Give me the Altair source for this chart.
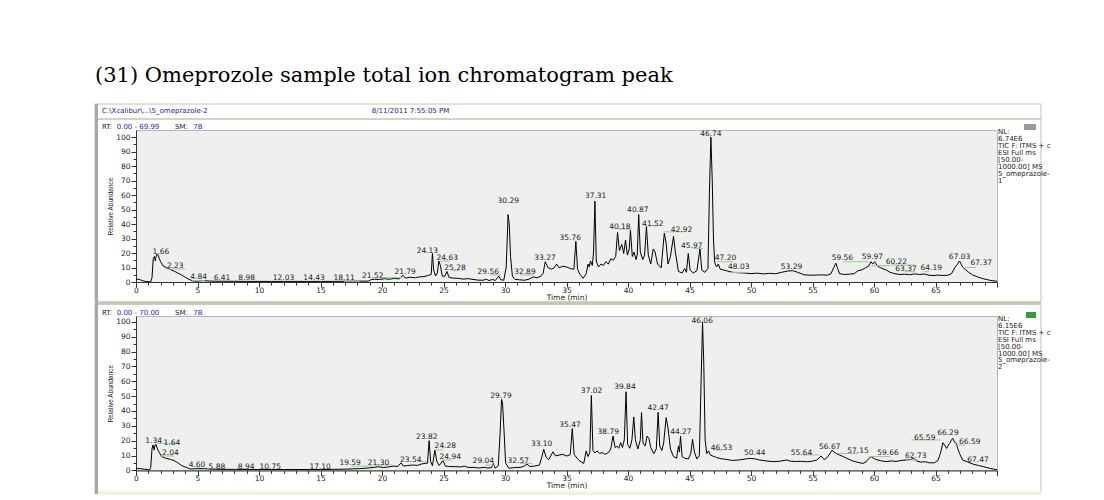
import altair as alt
import pandas as pd

TITLE = "(31) Omeprozole sample total ion chromatogram peak"
HEADER_PATH = "C:\\Xcalibur\\...\\5_omeprazole-2"
HEADER_DATE = "8/11/2011 7:55:05 PM"

# ---- top chromatogram (time min, relative abundance %) ----
top_trace = [
    (0.0, 1.5), (0.2, 2.0), (0.5, 1.0), (0.8, 0.3), (1.2, 0.2), (1.3, 3.0), (1.4, 16.1),
    (1.5, 17.6), (1.57, 14.5), (1.62, 17.1), (1.7, 19.2), (1.8, 18.6), (1.9, 16.1),
    (2.0, 14.0), (2.2, 11.2), (2.5, 9.8), (2.8, 8.6), (3.1, 7.5), (3.4, 6.2), (3.7, 4.8),
    (4.0, 3.3), (4.3, 1.9), (4.6, 0.8), (5.0, 0.5), (5.5, 1.0), (6.0, 0.6), (7.0, 0.5),
    (8.0, 0.5), (9.0, 0.4), (10.0, 0.4), (11.0, 0.4), (12.0, 0.4), (13.0, 0.4), (14.0, 0.4),
    (15.0, 0.4), (16.0, 0.4), (17.0, 0.5), (18.0, 0.6), (18.9, 0.6), (19.1, 1.6), (19.4, 1.9),
    (19.8, 1.7), (20.2, 2.3), (20.6, 1.9), (21.0, 2.5), (21.4, 2.1), (21.7, 4.7), (21.9, 2.7),
    (22.3, 3.3), (22.7, 2.9), (23.0, 3.5), (23.4, 3.7), (23.7, 4.4), (24.0, 5.2), (24.1, 19.7),
    (24.2, 8.3), (24.35, 4.1), (24.5, 6.2), (24.62, 14.5), (24.75, 11.4), (24.9, 4.1),
    (25.1, 3.9), (25.28, 7.3), (25.45, 3.1), (25.8, 2.7), (26.2, 2.5), (26.6, 2.0), (27.0, 2.3),
    (27.4, 1.8), (27.8, 1.3), (28.2, 1.2), (28.5, 1.9), (28.7, 1.0), (29.0, 1.8), (29.2, 1.0),
    (29.5, 4.1), (29.65, 1.6), (29.9, 1.2), (30.1, 10.4), (30.25, 46.6), (30.35, 39.4),
    (30.45, 17.6), (30.6, 4.1), (30.8, 1.9), (31.2, 1.5), (31.6, 1.2), (32.0, 2.1), (32.3, 3.5),
    (32.6, 2.9), (32.9, 3.9), (33.1, 6.0), (33.27, 14.0), (33.5, 9.8), (33.8, 8.9), (34.0, 9.8),
    (34.2, 12.4), (34.4, 9.8), (34.7, 10.9), (35.0, 10.4), (35.3, 9.3), (35.6, 8.8),
    (35.76, 28.0), (35.9, 8.8), (36.1, 5.2), (36.35, 2.6), (36.6, 5.7), (36.75, 12.4),
    (36.85, 10.4), (36.95, 14.5), (37.1, 11.4), (37.2, 20.7), (37.31, 55.9), (37.42, 14.5),
    (37.6, 10.4), (37.8, 12.4), (38.0, 11.4), (38.2, 14.0), (38.4, 12.4), (38.6, 16.1),
    (38.8, 15.0), (39.0, 17.6), (39.15, 34.2), (39.3, 21.8), (39.5, 25.9), (39.65, 19.7),
    (39.8, 29.0), (39.95, 18.6), (40.1, 22.8), (40.2, 35.7), (40.35, 17.6), (40.5, 20.7),
    (40.65, 15.5), (40.75, 18.6), (40.87, 46.6), (41.0, 20.7), (41.2, 15.5), (41.35, 18.6),
    (41.5, 38.3), (41.65, 18.6), (41.85, 12.4), (42.05, 22.8), (42.2, 20.7), (42.4, 12.4),
    (42.7, 9.8), (42.95, 33.7), (43.1, 26.9), (43.25, 12.4), (43.45, 17.6), (43.7, 31.6),
    (43.85, 20.7), (44.1, 7.3), (44.4, 6.2), (44.6, 9.3), (44.75, 6.7), (44.9, 19.7),
    (45.05, 8.3), (45.3, 6.2), (45.6, 7.8), (45.85, 22.8), (46.0, 8.3), (46.25, 6.7),
    (46.5, 9.3), (46.62, 62.0), (46.74, 100.0), (46.85, 70.0), (46.95, 29.0), (47.05, 13.5),
    (47.2, 10.4), (47.35, 12.4), (47.5, 8.8), (48.0, 7.8), (48.5, 6.7), (49.0, 6.4),
    (49.5, 6.2), (50.0, 5.8), (50.5, 6.1), (51.0, 5.6), (51.5, 6.0), (52.0, 5.7), (52.5, 6.7),
    (53.0, 7.6), (53.4, 7.8), (53.8, 6.7), (54.3, 5.0), (54.8, 4.7), (55.3, 4.8), (55.8, 4.9),
    (56.2, 4.7), (56.5, 5.7), (56.75, 10.4), (56.9, 13.0), (57.05, 9.3), (57.2, 5.7),
    (57.6, 5.2), (58.0, 5.4), (58.4, 5.8), (58.7, 7.8), (59.0, 8.3), (59.3, 9.8), (59.55, 10.9),
    (59.75, 14.0), (59.9, 12.4), (60.05, 14.0), (60.3, 10.9), (60.55, 9.8), (60.8, 8.8),
    (61.0, 8.3), (61.3, 6.7), (61.7, 5.7), (62.1, 5.2), (62.5, 5.4), (62.9, 5.0), (63.3, 5.6),
    (63.7, 5.2), (64.1, 5.5), (64.4, 4.8), (64.8, 4.4), (65.2, 4.8), (65.6, 4.5), (66.0, 4.7),
    (66.3, 5.7), (66.6, 10.4), (66.8, 12.4), (66.95, 14.5), (67.05, 13.0), (67.2, 10.4),
    (67.4, 8.8), (67.7, 6.7), (68.0, 5.0), (68.4, 3.6), (68.8, 2.4), (69.2, 1.6), (69.6, 0.9),
    (70.0, 0.5),
]

# ---- bottom chromatogram ----
bottom_trace = [
    (0.0, 1.3), (0.3, 1.2), (0.7, 0.8), (1.1, 0.3), (1.2, 2.1), (1.3, 14.4), (1.38, 17.1),
    (1.48, 13.7), (1.55, 17.1), (1.62, 17.5), (1.75, 14.4), (1.9, 11.8), (2.1, 9.3),
    (2.4, 8.2), (2.8, 7.4), (3.1, 6.6), (3.4, 5.1), (3.7, 3.3), (4.0, 2.3), (4.4, 1.0),
    (4.7, 1.0), (5.0, 1.4), (5.5, 1.2), (6.0, 0.9), (7.0, 0.7), (8.0, 0.7), (9.0, 0.6),
    (10.0, 0.6), (11.0, 0.6), (12.0, 0.6), (13.0, 0.6), (14.0, 0.6), (15.0, 0.6), (16.0, 0.7),
    (17.0, 0.8), (17.6, 1.0), (18.2, 1.2), (18.6, 1.4), (19.0, 1.7), (19.4, 2.1), (19.7, 2.5),
    (20.1, 1.9), (20.5, 2.3), (20.9, 2.9), (21.3, 2.7), (21.55, 5.1), (21.75, 2.9), (22.1, 3.3),
    (22.5, 3.6), (22.9, 3.4), (23.2, 4.3), (23.5, 4.7), (23.7, 4.9), (23.83, 20.0),
    (23.95, 6.2), (24.1, 3.1), (24.3, 13.7), (24.45, 6.2), (24.65, 3.3), (24.96, 6.6),
    (25.15, 2.9), (25.5, 2.6), (26.0, 2.5), (26.4, 2.3), (26.7, 2.9), (27.0, 2.0), (27.5, 2.0),
    (27.9, 1.6), (28.3, 2.1), (28.6, 1.6), (28.9, 1.9), (29.05, 4.7), (29.2, 1.5), (29.45, 3.1),
    (29.6, 24.7), (29.72, 47.8), (29.8, 45.2), (29.92, 26.7), (30.05, 5.1), (30.3, 1.5),
    (30.8, 1.9), (31.3, 2.1), (31.6, 3.1), (31.8, 4.3), (32.0, 2.6), (32.4, 2.9), (32.8, 3.6),
    (33.0, 9.3), (33.15, 14.2), (33.35, 8.7), (33.55, 7.2), (33.9, 12.5), (34.1, 9.8),
    (34.4, 10.3), (34.7, 10.8), (35.0, 9.7), (35.3, 10.5), (35.47, 28.1), (35.62, 10.8),
    (35.9, 7.7), (36.1, 6.2), (36.4, 4.7), (36.6, 13.1), (36.75, 9.3), (36.9, 12.3),
    (37.02, 50.4), (37.15, 13.4), (37.3, 11.8), (37.5, 13.1), (37.7, 11.3), (37.9, 12.1),
    (38.1, 10.8), (38.4, 11.9), (38.6, 14.4), (38.78, 23.1), (38.95, 15.4), (39.1, 16.3),
    (39.25, 14.9), (39.4, 18.7), (39.55, 15.4), (39.7, 20.6), (39.84, 52.9), (39.97, 17.5),
    (40.15, 14.9), (40.32, 20.6), (40.47, 36.0), (40.6, 20.6), (40.8, 14.4), (41.0, 20.6),
    (41.1, 38.9), (41.22, 18.5), (41.4, 16.4), (41.55, 23.1), (41.7, 21.6), (41.85, 15.4),
    (42.1, 11.3), (42.3, 14.4), (42.45, 39.1), (42.58, 16.4), (42.75, 13.4), (42.9, 18.5),
    (43.1, 35.5), (43.25, 28.8), (43.45, 14.4), (43.7, 9.3), (43.95, 8.2), (44.1, 16.3),
    (44.18, 12.3), (44.27, 23.1), (44.4, 9.3), (44.6, 8.2), (44.9, 7.7), (45.1, 11.3),
    (45.25, 20.9), (45.4, 12.3), (45.6, 7.7), (45.8, 9.8), (45.95, 62.0), (46.06, 100.0),
    (46.16, 72.0), (46.27, 20.6), (46.4, 11.3), (46.55, 13.1), (46.7, 10.3), (47.0, 9.3),
    (47.2, 8.7), (47.6, 7.8), (48.0, 7.4), (48.5, 6.7), (49.0, 7.0), (49.5, 7.6), (49.9, 8.1),
    (50.3, 7.8), (50.7, 7.0), (51.2, 6.4), (51.8, 5.9), (52.3, 6.1), (52.9, 7.0), (53.2, 6.2),
    (53.6, 6.0), (54.1, 6.1), (54.6, 5.8), (55.0, 6.2), (55.35, 7.0), (55.7, 9.7), (55.95, 7.2),
    (56.2, 8.7), (56.45, 11.8), (56.6, 13.7), (56.75, 12.3), (56.95, 11.3), (57.2, 10.3),
    (57.5, 9.3), (57.9, 7.7), (58.3, 6.3), (58.7, 5.4), (59.1, 4.7), (59.35, 5.7), (59.55, 7.7),
    (59.75, 9.3), (59.95, 8.2), (60.2, 7.2), (60.6, 6.4), (61.0, 5.9), (61.4, 6.4), (61.8, 6.0),
    (62.2, 6.7), (62.6, 7.0), (63.0, 7.4), (63.2, 8.1), (63.5, 6.2), (63.8, 5.6), (64.2, 5.8),
    (64.5, 5.1), (64.9, 5.1), (65.2, 6.7), (65.4, 11.4), (65.6, 18.6), (65.75, 17.0),
    (65.9, 14.8), (66.05, 17.0), (66.15, 18.2), (66.3, 20.6), (66.4, 21.6), (66.55, 19.0),
    (66.7, 18.2), (66.8, 14.9), (66.95, 11.4), (67.2, 7.0), (67.6, 5.7), (68.1, 4.1),
    (68.5, 3.3), (68.9, 2.5), (69.4, 1.4), (69.9, 0.6), (70.0, 0.5),
]

# ---- peak labels: (text, time where drawn, abundance where drawn) ----
top_labels = [
    ("1.66", 2.02, 20.4), ("2.23", 3.19, 11.3), ("4.84", 5.09, 3.2), ("6.41", 6.99, 2.5),
    ("8.98", 9.0, 2.5), ("12.03", 11.99, 2.5), ("14.43", 14.48, 2.5), ("18.11", 16.92, 3.0),
    ("21.52", 19.25, 4.4), ("21.79", 21.88, 6.6), ("24.13", 23.69, 21.4), ("24.63", 25.31, 16.3),
    ("25.28", 25.94, 9.8), ("29.56", 28.64, 6.6), ("30.29", 30.27, 55.9), ("32.89", 31.62, 6.6),
    ("33.27", 33.25, 16.8), ("35.76", 35.3, 30.1), ("37.31", 37.37, 59.2), ("40.18", 39.34, 38.2),
    ("40.87", 40.8, 49.7), ("41.52", 42.02, 40.4), ("42.92", 44.35, 35.9), ("45.97", 45.19, 25.2),
    ("46.74", 46.74, 102.3), ("47.20", 47.93, 16.3), ("48.03", 49.01, 10.6), ("53.29", 53.29, 10.6),
    ("59.56", 57.43, 16.3), ("59.97", 59.87, 17.0), ("60.22", 61.82, 13.8), ("63.37", 62.6, 9.0),
    ("64.19", 64.66, 9.4), ("67.03", 66.96, 17.5), ("67.37", 68.72, 12.8),
]
bottom_labels = [
    ("1.34", 1.43, 20.0), ("1.64", 2.92, 18.6), ("2.04", 2.79, 11.4), ("4.60", 4.96, 3.6),
    ("5.88", 6.58, 2.5), ("8.94", 8.96, 2.5), ("10.75", 10.91, 2.5), ("17.10", 14.97, 2.5),
    ("19.59", 17.41, 5.1), ("21.30", 19.71, 5.1), ("23.54", 22.34, 7.0), ("23.82", 23.64, 22.2),
    ("24.28", 25.15, 16.7), ("24.94", 25.55, 9.3), ("29.04", 28.24, 6.6), ("29.79", 29.67, 50.1),
    ("32.57", 31.08, 6.3), ("33.10", 32.98, 17.5), ("35.47", 35.28, 30.5), ("37.02", 37.04, 53.5),
    ("38.79", 38.39, 26.0), ("39.84", 39.75, 55.9), ("42.47", 42.45, 42.1), ("44.27", 44.3, 26.0),
    ("46.06", 46.03, 100.7), ("46.53", 47.6, 14.8), ("50.44", 50.31, 11.4), ("55.64", 54.1, 11.9),
    ("56.67", 56.4, 15.9), ("57.15", 58.7, 13.1), ("59.66", 61.14, 11.4), ("62.73", 63.39, 9.7),
    ("65.59", 64.12, 22.0), ("66.29", 66.01, 24.9), ("66.59", 67.78, 18.8), ("67.47", 68.45, 7.0),
]

# ---- green annotation bars: (time from, time to, abundance) ----
top_greens = [
    (2.38, 4.0, 9.0), (4.54, 5.63, 0.9), (16.9, 18.2, 0.5), (20.1, 21.6, 3.0), (24.7, 25.5, 14.5),
    (25.7, 26.3, 7.8), (28.8, 29.7, 4.9), (31.2, 32.3, 4.9), (39.2, 40.3, 36.6), (41.6, 42.5, 38.9),
    (42.9, 44.6, 34.7), (45.3, 46.1, 23.2), (47.2, 48.6, 14.0), (48.2, 49.6, 6.6), (57.5, 59.5, 14.0),
    (59.8, 61.3, 11.3), (61.4, 63.3, 11.7), (62.5, 63.3, 7.1), (64.0, 64.5, 7.1), (67.4, 68.3, 10.0),
]
bottom_greens = [
    (1.7, 3.3, 18.2), (2.1, 3.1, 9.7), (4.7, 5.6, 0.7), (5.8, 7.0, 1.3), (17.5, 19.3, 2.9),
    (19.4, 20.8, 3.6), (22.9, 23.6, 5.9), (24.3, 24.98, 13.7), (24.98, 25.7, 7.0), (28.4, 29.2, 3.6),
    (31.2, 32.2, 4.7), (46.9, 47.7, 13.7), (54.2, 55.6, 10.4), (57.1, 58.7, 11.4), (59.6, 61.3, 9.3),
    (62.6, 63.6, 7.0), (63.0, 65.4, 20.5), (66.6, 67.4, 17.1),
]

top_rt = "0.00 - 69.99"
bottom_rt = "0.00 - 70.00"
top_nl = ["NL:", "6.74E6", "TIC F: ITMS + c", "ESI Full ms", "[50.00-", "1000.00]  MS", "5_omeprazole-", "1"]
bottom_nl = ["NL:", "6.15E6", "TIC F: ITMS + c", "ESI Full ms", "[50.00-", "1000.00]  MS", "5_omeprazole-", "2"]

X_TICKS = list(range(0, 71))
Y_TICKS = list(range(0, 101, 5))

W = 861
SMALL = "DejaVu Sans"
FRAME = "#c4c4b4"
ONE = pd.DataFrame({"k": [0]})


def dtext(text, x, y, color="#222222", size=7, font=SMALL, align="left", baseline="middle", **kw):
    return alt.Chart(ONE).mark_text(text=text, align=align, baseline=baseline, font=font,
                                    fontSize=size, color=color, **kw).encode(
        x=alt.value(x), y=alt.value(y))


def drect(x, x2, y, y2, fill=None, stroke=None, sw=1):
    if fill is not None:
        m = alt.Chart(ONE).mark_rect(color=fill)
    else:
        m = alt.Chart(ONE).mark_rect(fill="white", fillOpacity=0, stroke=stroke, strokeWidth=sw)
    return m.encode(x=alt.value(x), x2=alt.value(x2), y=alt.value(y), y2=alt.value(y2))


def panel(trace, labels, greens, height, ytop, rt, nl, nl_y, nl_lh, decos):
    tdf = pd.DataFrame(trace, columns=["t", "v"])
    ldf = pd.DataFrame(labels, columns=["label", "x", "y"])
    gdf = pd.DataFrame(greens, columns=["x1", "x2", "y"])
    xs = alt.Scale(domain=[0, 70], nice=False, zero=False)
    ys = alt.Scale(domain=[0, ytop], nice=False)
    x_axis = alt.Axis(
        values=X_TICKS, format="d", title="Time (min)", grid=False,
        labelExpr="datum.value % 5 === 0 && datum.value < 70 ? datum.label : ''",
        tickSize={"condition": {"test": "datum.value % 5 === 0", "value": 5}, "value": 3},
        labelPadding=-1, titlePadding=0, labelOverlap=False, labelFlush=False,
        titleFontSize=7.5, titleFont=SMALL,
    )
    y_axis = alt.Axis(
        values=Y_TICKS, format="d", title="Relative Abundance", grid=False,
        labelExpr="datum.value % 10 === 0 ? datum.label : ''",
        tickSize={"condition": {"test": "datum.value % 10 === 0", "value": 5}, "value": 3},
        labelPadding=1, titlePadding=2, labelOverlap=False, labelFlush=False,
        titleFontSize=6.5, titleFont="Liberation Sans",
    )
    line = alt.Chart(tdf).mark_line(color="#000000", strokeWidth=1, clip=True).encode(
        x=alt.X("t:Q", scale=xs, axis=x_axis),
        y=alt.Y("v:Q", scale=ys, axis=y_axis))
    green = alt.Chart(gdf).mark_rule(color="#8fcf8f", strokeWidth=1).encode(
        x=alt.X("x1:Q", scale=xs, axis=x_axis), x2="x2:Q",
        y=alt.Y("y:Q", scale=ys, axis=y_axis))
    text = alt.Chart(ldf).mark_text(font=SMALL, fontSize=7.5, color="#222222",
                                    baseline="middle", align="center").encode(
        x=alt.X("x:Q", scale=xs, axis=x_axis),
        y=alt.Y("y:Q", scale=ys, axis=y_axis),
        text="label:N")
    rt_y = -3.5
    extra = [
        dtext("RT:", -34, rt_y, color="#222222"),
        dtext(rt, -19.3, rt_y, color="#2a2ab8"),
        dtext("SM:", 39, rt_y, color="#222222"),
        dtext("7B", 57.3, rt_y, color="#2a2ab8"),
        dtext(nl, W + 1, nl_y, color="#222222", size=7, baseline="middle", lineHeight=nl_lh),
    ]
    return alt.layer(line, green, text, *decos, *extra).properties(width=W, height=height)


top_decos = [
    dtext(TITLE, -41, -48.3, color="#000000", size=21, font="DejaVu Serif", baseline="alphabetic"),
    drect(-41, 905, -26, -11, stroke=FRAME),
    drect(-41, 905, -11, 171.7, stroke=FRAME),
    drect(-41, -38, -26, 171.7, fill="#a8a8a8"),
    dtext(HEADER_PATH, -34, -19.5, color="#1c1c8c", size=7),
    dtext(HEADER_DATE, 235.7, -19.5, color="#1c1c8c", size=7),
    drect(888, 900, -6, 0, fill="#9a9a9a"),
]
bottom_decos = [
    drect(-41, 905, -14.0, -11.3, fill="#c8c8b8"),
    drect(-41, 905, -12, 177.7, stroke=FRAME),
    drect(-41, -38, -14.6, 177.7, fill="#a8a8a8"),
    drect(-38, 905, 174.5, 177.7, fill="#f5f5e2"),
    drect(890, 900, -4, 2, fill="#3a9a3a"),
]

top = panel(top_trace, top_labels, top_greens, 152, 105.0, top_rt, top_nl, 1.7, 7.1, top_decos)
bottom = panel(bottom_trace, bottom_labels, bottom_greens, 154.4, 103.9, bottom_rt, bottom_nl, 3.0, 6.9, bottom_decos)

chart = alt.vconcat(top, bottom, spacing=34, bounds="flush").properties(
    padding={"left": 86, "top": 56, "right": 8, "bottom": 4}
).configure_view(
    fill="#efefef", stroke="#b8b8b8", strokeWidth=1
).configure_axis(
    domainColor="#333333", tickColor="#333333", labelFont=SMALL, labelFontSize=7.5,
    labelColor="#222222", titleFontWeight="normal", titleColor="#222222",
)

chart.save("out.html", embed_options={"renderer": "svg", "actions": False})
